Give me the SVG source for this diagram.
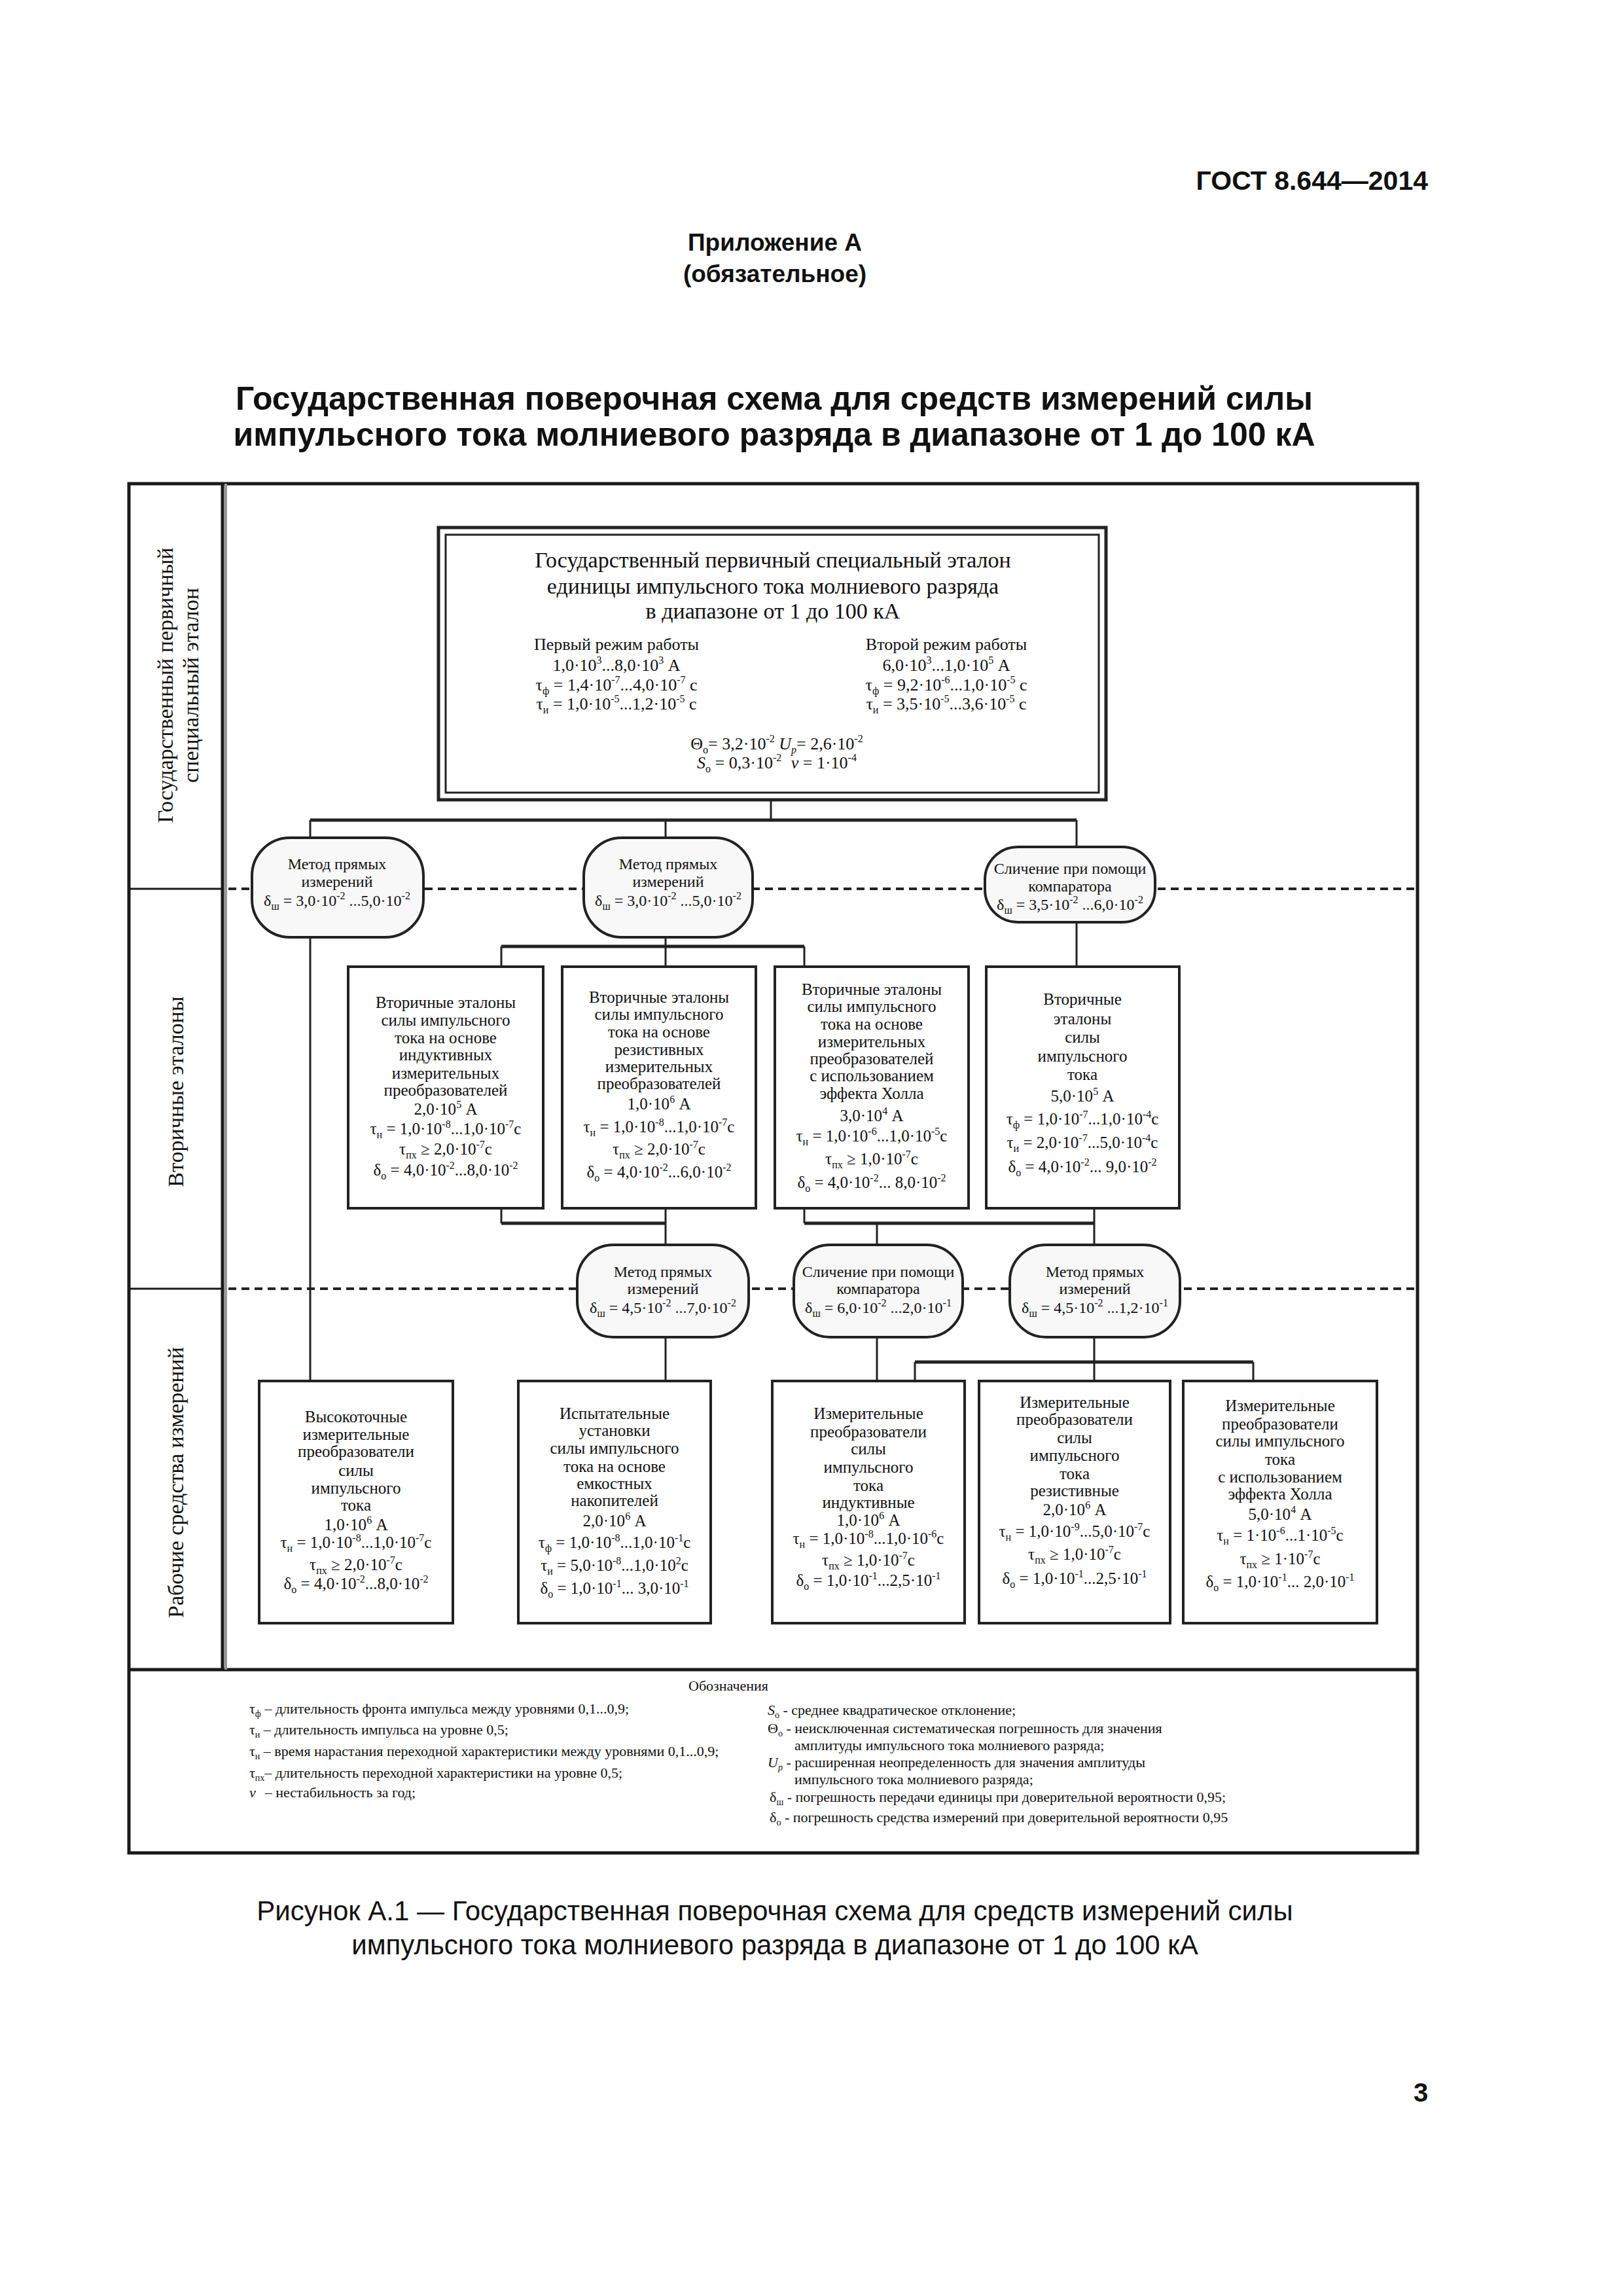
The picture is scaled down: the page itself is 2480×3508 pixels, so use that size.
<svg xmlns="http://www.w3.org/2000/svg" width="2480" height="3508" viewBox="0 0 2480 3508">
<style>
text{font-family:"Liberation Serif","Times New Roman",serif;fill:#111}
.c{text-anchor:middle}
.sans{font-family:"Liberation Sans",Arial,sans-serif}
.b{font-weight:bold}
.f25{font-size:25px}
.f24{font-size:24px}
.f26{font-size:26px}
.f34{font-size:34px}
.f22{font-size:22px}
.u{font-size:16px}
.s{font-size:14px}
.it{font-style:italic}
.box{fill:#fff;stroke:#222;stroke-width:4}
.oval{fill:#f8f8f8;stroke:#222;stroke-width:4}
.ln{stroke:#222;stroke-width:3;fill:none}
.bus{stroke:#222;stroke-width:5;fill:none}
.dash{stroke:#222;stroke-width:4;stroke-dasharray:12 8;fill:none}
.frm{fill:none;stroke:#1a1a1a;stroke-width:5}
</style>
<rect width="2480" height="3508" fill="#fff"/>

<g id="page-header">
<text class="sans b" x="2182" y="290" font-size="41" text-anchor="end">ГОСТ 8.644—2014</text>
<text class="sans b c" x="1184" y="383" font-size="37">Приложение А</text>
<text class="sans b c" x="1184" y="431" font-size="37">(обязательное)</text>
<text class="sans b c" x="1183" y="626" font-size="50">Государственная поверочная схема для средств измерений силы</text>
<text class="sans b c" x="1183" y="681" font-size="50">импульсного тока молниевого разряда в диапазоне от 1 до 100 кА</text>
</g>

<g id="frame">
<rect class="frm" x="197" y="739" width="1969" height="2092"/>
<line x1="197" y1="2551" x2="2166" y2="2551" stroke="#1a1a1a" stroke-width="5"/>
<line x1="340" y1="739" x2="340" y2="2551" stroke="#1a1a1a" stroke-width="5"/>
<line x1="345" y1="739" x2="345" y2="2551" stroke="#999" stroke-width="4"/>
<line x1="197" y1="1358" x2="340" y2="1358" stroke="#1a1a1a" stroke-width="3"/>
<line x1="197" y1="1969" x2="340" y2="1969" stroke="#1a1a1a" stroke-width="3"/>
<line class="dash" x1="349" y1="1358" x2="2164" y2="1358"/>
<line class="dash" x1="349" y1="1969" x2="2164" y2="1969"/>
</g>

<g id="level-labels" class="f34">
<text class="c" transform="translate(264,1047) rotate(-90)">Государственный первичный</text>
<text class="c" transform="translate(303,1047) rotate(-90)">специальный эталон</text>
<text class="c" transform="translate(280,1668) rotate(-90)">Вторичные эталоны</text>
<text class="c" transform="translate(280,2265) rotate(-90)">Рабочие средства измерений</text>
</g>

<g id="connectors">
<line class="ln" x1="1178" y1="1222" x2="1178" y2="1253"/>
<line class="bus" x1="474" y1="1253" x2="1645" y2="1253"/>
<line class="ln" x1="474" y1="1253" x2="474" y2="1280"/>
<line class="ln" x1="1017" y1="1253" x2="1017" y2="1280"/>
<line class="ln" x1="1645" y1="1253" x2="1645" y2="1294"/>
<line class="ln" x1="474" y1="1432" x2="474" y2="2110"/>
<line class="ln" x1="1017" y1="1432" x2="1017" y2="1446"/>
<line class="bus" x1="766" y1="1446" x2="1229" y2="1446"/>
<line class="ln" x1="766" y1="1446" x2="766" y2="1477"/>
<line class="ln" x1="1017" y1="1446" x2="1017" y2="1477"/>
<line class="ln" x1="1229" y1="1446" x2="1229" y2="1477"/>
<line class="ln" x1="1645" y1="1409" x2="1645" y2="1477"/>
<line class="ln" x1="766" y1="1846" x2="766" y2="1869"/>
<line class="ln" x1="1017" y1="1846" x2="1017" y2="1902"/>
<line class="bus" x1="766" y1="1869" x2="1017" y2="1869"/>
<line class="ln" x1="1229" y1="1846" x2="1229" y2="1869"/>
<line class="ln" x1="1672" y1="1846" x2="1672" y2="1902"/>
<line class="bus" x1="1229" y1="1869" x2="1672" y2="1869"/>
<line class="ln" x1="1340" y1="1869" x2="1340" y2="1902"/>
<line class="ln" x1="1017" y1="2043" x2="1017" y2="2110"/>
<line class="ln" x1="1340" y1="2043" x2="1340" y2="2110"/>
<line class="ln" x1="1672" y1="2043" x2="1672" y2="2110"/>
<line class="bus" x1="1398" y1="2081" x2="1915" y2="2081"/>
<line class="ln" x1="1398" y1="2081" x2="1398" y2="2110"/>
<line class="ln" x1="1915" y1="2081" x2="1915" y2="2110"/>
</g>

<g id="primary-standard">
<rect x="670" y="806" width="1020" height="416" fill="#fff" stroke="#222" stroke-width="5"/>
<rect x="681" y="817" width="998" height="394" fill="none" stroke="#222" stroke-width="3"/>
<text class="c f34" x="1181" y="867">Государственный первичный специальный эталон</text>
<text class="c f34" x="1181" y="907">единицы импульсного тока молниевого разряда</text>
<text class="c f34" x="1181" y="945">в диапазоне от 1 до 100 кА</text>
<text class="c f26" x="942" y="993">Первый режим работы</text>
<text class="c f26" x="942" y="1025">1,0·10<tspan class="u" dy="-11">3</tspan><tspan dy="11">...8,0·10</tspan><tspan class="u" dy="-11">3</tspan><tspan dy="11"> А</tspan></text>
<text class="c f26" x="942" y="1055">τ<tspan class="u" dy="6">ф</tspan><tspan dy="-6"> = 1,4·10</tspan><tspan class="u" dy="-11">-7</tspan><tspan dy="11">...4,0·10</tspan><tspan class="u" dy="-11">-7</tspan><tspan dy="11"> с</tspan></text>
<text class="c f26" x="942" y="1084">τ<tspan class="u" dy="6">и</tspan><tspan dy="-6"> = 1,0·10</tspan><tspan class="u" dy="-11">-5</tspan><tspan dy="11">...1,2·10</tspan><tspan class="u" dy="-11">-5</tspan><tspan dy="11"> с</tspan></text>
<text class="c f26" x="1446" y="993">Второй режим работы</text>
<text class="c f26" x="1446" y="1025">6,0·10<tspan class="u" dy="-11">3</tspan><tspan dy="11">...1,0·10</tspan><tspan class="u" dy="-11">5</tspan><tspan dy="11"> А</tspan></text>
<text class="c f26" x="1446" y="1055">τ<tspan class="u" dy="6">ф</tspan><tspan dy="-6"> = 9,2·10</tspan><tspan class="u" dy="-11">-6</tspan><tspan dy="11">...1,0·10</tspan><tspan class="u" dy="-11">-5</tspan><tspan dy="11"> с</tspan></text>
<text class="c f26" x="1446" y="1084">τ<tspan class="u" dy="6">и</tspan><tspan dy="-6"> = 3,5·10</tspan><tspan class="u" dy="-11">-5</tspan><tspan dy="11">...3,6·10</tspan><tspan class="u" dy="-11">-5</tspan><tspan dy="11"> с</tspan></text>
<text class="c f26" x="1187" y="1145">Θ<tspan class="u" dy="6">о</tspan><tspan dy="-6">= 3,2·10</tspan><tspan class="u" dy="-11">-2</tspan><tspan class="it" dy="11"> U</tspan><tspan class="u it" dy="6">р</tspan><tspan dy="-6">= 2,6·10</tspan><tspan class="u" dy="-11">-2</tspan></text>
<text class="c f26" x="1187" y="1174"><tspan class="it">S</tspan><tspan class="u" dy="6">о</tspan><tspan dy="-6"> = 0,3·10</tspan><tspan class="u" dy="-11">-2</tspan><tspan dy="11" dx="8"> </tspan><tspan class="it">ν</tspan> = 1·10<tspan class="u" dy="-11">-4</tspan></text>
</g>

<g id="method-1">
<rect class="oval" x="385" y="1280" width="262" height="152" rx="58"/>
<text class="c f24" x="515" y="1328">Метод прямых</text>
<text class="c f24" x="515" y="1355">измерений</text>
<text class="c f24" x="515" y="1384">δ<tspan class="u" dy="6">ш</tspan><tspan dy="-6"> = 3,0·10</tspan><tspan class="u" dy="-10">-2</tspan><tspan dy="10"> ...5,0·10</tspan><tspan class="u" dy="-10">-2</tspan></text>
</g>
<g id="method-2">
<rect class="oval" x="892" y="1280" width="258" height="152" rx="58"/>
<text class="c f24" x="1021" y="1328">Метод прямых</text>
<text class="c f24" x="1021" y="1355">измерений</text>
<text class="c f24" x="1021" y="1384">δ<tspan class="u" dy="6">ш</tspan><tspan dy="-6"> = 3,0·10</tspan><tspan class="u" dy="-10">-2</tspan><tspan dy="10"> ...5,0·10</tspan><tspan class="u" dy="-10">-2</tspan></text>
</g>
<g id="comparator-1">
<rect class="oval" x="1505" y="1294" width="260" height="115" rx="50"/>
<text class="c f24" x="1635" y="1335">Сличение при помощи</text>
<text class="c f24" x="1635" y="1362">компаратора</text>
<text class="c f24" x="1635" y="1390">δ<tspan class="u" dy="6">ш</tspan><tspan dy="-6"> = 3,5·10</tspan><tspan class="u" dy="-10">-2</tspan><tspan dy="10"> ...6,0·10</tspan><tspan class="u" dy="-10">-2</tspan></text>
</g>

<g id="secondary-1">
<rect class="box" x="532" y="1477" width="298" height="369"/>
<g class="c f25">
<text x="681" y="1540">Вторичные эталоны</text>
<text x="681" y="1567">силы импульсного</text>
<text x="681" y="1594">тока на основе</text>
<text x="681" y="1620">индуктивных</text>
<text x="681" y="1648">измерительных</text>
<text x="681" y="1674">преобразователей</text>
<text x="681" y="1703">2,0·10<tspan class="u" dy="-10">5</tspan><tspan dy="10"> А</tspan></text>
<text x="681" y="1733">τ<tspan class="u" dy="6">н</tspan><tspan dy="-6"> = 1,0·10</tspan><tspan class="u" dy="-10">-8</tspan><tspan dy="10">...1,0·10</tspan><tspan class="u" dy="-10">-7</tspan><tspan dy="10">с</tspan></text>
<text x="681" y="1764">τ<tspan class="u" dy="6">пх</tspan><tspan dy="-6"> ≥ 2,0·10</tspan><tspan class="u" dy="-10">-7</tspan><tspan dy="10">с</tspan></text>
<text x="681" y="1796">δ<tspan class="u" dy="6">о</tspan><tspan dy="-6"> = 4,0·10</tspan><tspan class="u" dy="-10">-2</tspan><tspan dy="10">...8,0·10</tspan><tspan class="u" dy="-10">-2</tspan></text>
</g>
</g>
<g id="secondary-2">
<rect class="box" x="859" y="1477" width="296" height="369"/>
<g class="c f25">
<text x="1007" y="1532">Вторичные эталоны</text>
<text x="1007" y="1558">силы импульсного</text>
<text x="1007" y="1585">тока на основе</text>
<text x="1007" y="1612">резистивных</text>
<text x="1007" y="1638">измерительных</text>
<text x="1007" y="1664">преобразователей</text>
<text x="1007" y="1695">1,0·10<tspan class="u" dy="-10">6</tspan><tspan dy="10"> А</tspan></text>
<text x="1007" y="1730">τ<tspan class="u" dy="6">н</tspan><tspan dy="-6"> = 1,0·10</tspan><tspan class="u" dy="-10">-8</tspan><tspan dy="10">...1,0·10</tspan><tspan class="u" dy="-10">-7</tspan><tspan dy="10">с</tspan></text>
<text x="1007" y="1764">τ<tspan class="u" dy="6">пх</tspan><tspan dy="-6"> ≥ 2,0·10</tspan><tspan class="u" dy="-10">-7</tspan><tspan dy="10">с</tspan></text>
<text x="1007" y="1799">δ<tspan class="u" dy="6">о</tspan><tspan dy="-6"> = 4,0·10</tspan><tspan class="u" dy="-10">-2</tspan><tspan dy="10">...6,0·10</tspan><tspan class="u" dy="-10">-2</tspan></text>
</g>
</g>
<g id="secondary-3">
<rect class="box" x="1184" y="1477" width="296" height="369"/>
<g class="c f25">
<text x="1332" y="1520">Вторичные эталоны</text>
<text x="1332" y="1546">силы импульсного</text>
<text x="1332" y="1573">тока на основе</text>
<text x="1332" y="1600">измерительных</text>
<text x="1332" y="1626">преобразователей</text>
<text x="1332" y="1652">с использованием</text>
<text x="1332" y="1679">эффекта Холла</text>
<text x="1332" y="1713">3,0·10<tspan class="u" dy="-10">4</tspan><tspan dy="10"> А</tspan></text>
<text x="1332" y="1744">τ<tspan class="u" dy="6">н</tspan><tspan dy="-6"> = 1,0·10</tspan><tspan class="u" dy="-10">-6</tspan><tspan dy="10">...1,0·10</tspan><tspan class="u" dy="-10">-5</tspan><tspan dy="10">с</tspan></text>
<text x="1332" y="1779">τ<tspan class="u" dy="6">пх</tspan><tspan dy="-6"> ≥ 1,0·10</tspan><tspan class="u" dy="-10">-7</tspan><tspan dy="10">с</tspan></text>
<text x="1332" y="1815">δ<tspan class="u" dy="6">о</tspan><tspan dy="-6"> = 4,0·10</tspan><tspan class="u" dy="-10">-2</tspan><tspan dy="10">... 8,0·10</tspan><tspan class="u" dy="-10">-2</tspan></text>
</g>
</g>
<g id="secondary-4">
<rect class="box" x="1507" y="1477" width="295" height="369"/>
<g class="c f25">
<text x="1654" y="1535">Вторичные</text>
<text x="1654" y="1565">эталоны</text>
<text x="1654" y="1593">силы</text>
<text x="1654" y="1622">импульсного</text>
<text x="1654" y="1650">тока</text>
<text x="1654" y="1683">5,0·10<tspan class="u" dy="-10">5</tspan><tspan dy="10"> А</tspan></text>
<text x="1654" y="1718">τ<tspan class="u" dy="6">ф</tspan><tspan dy="-6"> = 1,0·10</tspan><tspan class="u" dy="-10">-7</tspan><tspan dy="10">...1,0·10</tspan><tspan class="u" dy="-10">-4</tspan><tspan dy="10">с</tspan></text>
<text x="1654" y="1754">τ<tspan class="u" dy="6">и</tspan><tspan dy="-6"> = 2,0·10</tspan><tspan class="u" dy="-10">-7</tspan><tspan dy="10">...5,0·10</tspan><tspan class="u" dy="-10">-4</tspan><tspan dy="10">с</tspan></text>
<text x="1654" y="1791">δ<tspan class="u" dy="6">о</tspan><tspan dy="-6"> = 4,0·10</tspan><tspan class="u" dy="-10">-2</tspan><tspan dy="10">... 9,0·10</tspan><tspan class="u" dy="-10">-2</tspan></text>
</g>
</g>

<g id="method-3">
<rect class="oval" x="882" y="1902" width="262" height="141" rx="55"/>
<text class="c f24" x="1013" y="1951">Метод прямых</text>
<text class="c f24" x="1013" y="1977">измерений</text>
<text class="c f24" x="1013" y="2006">δ<tspan class="u" dy="6">ш</tspan><tspan dy="-6"> = 4,5·10</tspan><tspan class="u" dy="-10">-2</tspan><tspan dy="10"> ...7,0·10</tspan><tspan class="u" dy="-10">-2</tspan></text>
</g>
<g id="comparator-2">
<rect class="oval" x="1213" y="1902" width="258" height="141" rx="55"/>
<text class="c f24" x="1342" y="1951">Сличение при помощи</text>
<text class="c f24" x="1342" y="1977">компаратора</text>
<text class="c f24" x="1342" y="2006">δ<tspan class="u" dy="6">ш</tspan><tspan dy="-6"> = 6,0·10</tspan><tspan class="u" dy="-10">-2</tspan><tspan dy="10"> ...2,0·10</tspan><tspan class="u" dy="-10">-1</tspan></text>
</g>
<g id="method-4">
<rect class="oval" x="1543" y="1902" width="260" height="141" rx="55"/>
<text class="c f24" x="1673" y="1951">Метод прямых</text>
<text class="c f24" x="1673" y="1977">измерений</text>
<text class="c f24" x="1673" y="2006">δ<tspan class="u" dy="6">ш</tspan><tspan dy="-6"> = 4,5·10</tspan><tspan class="u" dy="-10">-2</tspan><tspan dy="10"> ...1,2·10</tspan><tspan class="u" dy="-10">-1</tspan></text>
</g>

<g id="working-1">
<rect class="box" x="396" y="2110" width="296" height="370"/>
<g class="c f25">
<text x="544" y="2173">Высокоточные</text>
<text x="544" y="2200">измерительные</text>
<text x="544" y="2226">преобразователи</text>
<text x="544" y="2255">силы</text>
<text x="544" y="2282">импульсного</text>
<text x="544" y="2308">тока</text>
<text x="544" y="2338">1,0·10<tspan class="u" dy="-10">6</tspan><tspan dy="10"> А</tspan></text>
<text x="544" y="2365">τ<tspan class="u" dy="6">н</tspan><tspan dy="-6"> = 1,0·10</tspan><tspan class="u" dy="-10">-8</tspan><tspan dy="10">...1,0·10</tspan><tspan class="u" dy="-10">-7</tspan><tspan dy="10">с</tspan></text>
<text x="544" y="2399">τ<tspan class="u" dy="6">пх</tspan><tspan dy="-6"> ≥ 2,0·10</tspan><tspan class="u" dy="-10">-7</tspan><tspan dy="10">с</tspan></text>
<text x="544" y="2428">δ<tspan class="u" dy="6">о</tspan><tspan dy="-6"> = 4,0·10</tspan><tspan class="u" dy="-10">-2</tspan><tspan dy="10">...8,0·10</tspan><tspan class="u" dy="-10">-2</tspan></text>
</g>
</g>
<g id="working-2">
<rect class="box" x="792" y="2110" width="294" height="370"/>
<g class="c f25">
<text x="939" y="2168">Испытательные</text>
<text x="939" y="2194">установки</text>
<text x="939" y="2221">силы импульсного</text>
<text x="939" y="2249">тока на основе</text>
<text x="939" y="2275">емкостных</text>
<text x="939" y="2301">накопителей</text>
<text x="939" y="2332">2,0·10<tspan class="u" dy="-10">6</tspan><tspan dy="10"> А</tspan></text>
<text x="939" y="2365">τ<tspan class="u" dy="6">ф</tspan><tspan dy="-6"> = 1,0·10</tspan><tspan class="u" dy="-10">-8</tspan><tspan dy="10">...1,0·10</tspan><tspan class="u" dy="-10">-1</tspan><tspan dy="10">с</tspan></text>
<text x="939" y="2400">τ<tspan class="u" dy="6">и</tspan><tspan dy="-6"> = 5,0·10</tspan><tspan class="u" dy="-10">-8</tspan><tspan dy="10">...1,0·10</tspan><tspan class="u" dy="-10">2</tspan><tspan dy="10">с</tspan></text>
<text x="939" y="2435">δ<tspan class="u" dy="6">о</tspan><tspan dy="-6"> = 1,0·10</tspan><tspan class="u" dy="-10">-1</tspan><tspan dy="10">... 3,0·10</tspan><tspan class="u" dy="-10">-1</tspan></text>
</g>
</g>
<g id="working-3">
<rect class="box" x="1180" y="2110" width="294" height="370"/>
<g class="c f25">
<text x="1327" y="2168">Измерительные</text>
<text x="1327" y="2196">преобразователи</text>
<text x="1327" y="2222">силы</text>
<text x="1327" y="2250">импульсного</text>
<text x="1327" y="2278">тока</text>
<text x="1327" y="2304">индуктивные</text>
<text x="1327" y="2331">1,0·10<tspan class="u" dy="-10">6</tspan><tspan dy="10"> А</tspan></text>
<text x="1327" y="2359">τ<tspan class="u" dy="6">н</tspan><tspan dy="-6"> = 1,0·10</tspan><tspan class="u" dy="-10">-8</tspan><tspan dy="10">...1,0·10</tspan><tspan class="u" dy="-10">-6</tspan><tspan dy="10">с</tspan></text>
<text x="1327" y="2392">τ<tspan class="u" dy="6">пх</tspan><tspan dy="-6"> ≥ 1,0·10</tspan><tspan class="u" dy="-10">-7</tspan><tspan dy="10">с</tspan></text>
<text x="1327" y="2423">δ<tspan class="u" dy="6">о</tspan><tspan dy="-6"> = 1,0·10</tspan><tspan class="u" dy="-10">-1</tspan><tspan dy="10">...2,5·10</tspan><tspan class="u" dy="-10">-1</tspan></text>
</g>
</g>
<g id="working-4">
<rect class="box" x="1496" y="2110" width="292" height="370"/>
<g class="c f25">
<text x="1642" y="2151">Измерительные</text>
<text x="1642" y="2177">преобразователи</text>
<text x="1642" y="2205">силы</text>
<text x="1642" y="2232">импульсного</text>
<text x="1642" y="2260">тока</text>
<text x="1642" y="2286">резистивные</text>
<text x="1642" y="2315">2,0·10<tspan class="u" dy="-10">6</tspan><tspan dy="10"> А</tspan></text>
<text x="1642" y="2348">τ<tspan class="u" dy="6">н</tspan><tspan dy="-6"> = 1,0·10</tspan><tspan class="u" dy="-10">-9</tspan><tspan dy="10">...5,0·10</tspan><tspan class="u" dy="-10">-7</tspan><tspan dy="10">с</tspan></text>
<text x="1642" y="2383">τ<tspan class="u" dy="6">пх</tspan><tspan dy="-6"> ≥ 1,0·10</tspan><tspan class="u" dy="-10">-7</tspan><tspan dy="10">с</tspan></text>
<text x="1642" y="2420">δ<tspan class="u" dy="6">о</tspan><tspan dy="-6"> = 1,0·10</tspan><tspan class="u" dy="-10">-1</tspan><tspan dy="10">...2,5·10</tspan><tspan class="u" dy="-10">-1</tspan></text>
</g>
</g>
<g id="working-5">
<rect class="box" x="1808" y="2110" width="296" height="370"/>
<g class="c f25">
<text x="1956" y="2156">Измерительные</text>
<text x="1956" y="2184">преобразователи</text>
<text x="1956" y="2210">силы импульсного</text>
<text x="1956" y="2238">тока</text>
<text x="1956" y="2265">с использованием</text>
<text x="1956" y="2291">эффекта Холла</text>
<text x="1956" y="2322">5,0·10<tspan class="u" dy="-10">4</tspan><tspan dy="10"> А</tspan></text>
<text x="1956" y="2354">τ<tspan class="u" dy="6">н</tspan><tspan dy="-6"> = 1·10</tspan><tspan class="u" dy="-10">-6</tspan><tspan dy="10">...1·10</tspan><tspan class="u" dy="-10">-5</tspan><tspan dy="10">с</tspan></text>
<text x="1956" y="2390">τ<tspan class="u" dy="6">пх</tspan><tspan dy="-6"> ≥ 1·10</tspan><tspan class="u" dy="-10">-7</tspan><tspan dy="10">с</tspan></text>
<text x="1956" y="2425">δ<tspan class="u" dy="6">о</tspan><tspan dy="-6"> = 1,0·10</tspan><tspan class="u" dy="-10">-1</tspan><tspan dy="10">... 2,0·10</tspan><tspan class="u" dy="-10">-1</tspan></text>
</g>
</g>

<g id="legend" class="f22">
<text class="c" x="1113" y="2583">Обозначения</text>
<text x="381" y="2618">τ<tspan class="s" dy="5">ф</tspan><tspan dy="-5"> – длительность фронта импульса между уровнями 0,1...0,9;</tspan></text>
<text x="381" y="2650">τ<tspan class="s" dy="5">и</tspan><tspan dy="-5"> – длительность импульса на уровне 0,5;</tspan></text>
<text x="381" y="2683">τ<tspan class="s" dy="5">н</tspan><tspan dy="-5"> – время нарастания переходной характеристики между уровнями 0,1...0,9;</tspan></text>
<text x="381" y="2716">τ<tspan class="s" dy="5">пх</tspan><tspan dy="-5">– длительность переходной характеристики на уровне 0,5;</tspan></text>
<text x="381" y="2746"><tspan class="it">ν</tspan><tspan dx="14">– нестабильность за год;</tspan></text>
<text x="1173" y="2620"><tspan class="it">S</tspan><tspan class="s" dy="5">о</tspan><tspan dy="-5"> -  среднее квадратическое отклонение;</tspan></text>
<text x="1173" y="2648">Θ<tspan class="s" dy="5">о</tspan><tspan dy="-5"> - неисключенная систематическая погрешность для значения</tspan></text>
<text x="1214" y="2674">амплитуды импульсного тока молниевого разряда;</text>
<text x="1173" y="2700"><tspan class="it">U</tspan><tspan class="s it" dy="5">р</tspan><tspan dy="-5"> - расширенная неопределенность для значения  амплитуды</tspan></text>
<text x="1214" y="2726">импульсного тока молниевого разряда;</text>
<text x="1176" y="2753">δ<tspan class="s" dy="5">ш</tspan><tspan dy="-5"> - погрешность передачи единицы при доверительной вероятности 0,95;</tspan></text>
<text x="1176" y="2784">δ<tspan class="s" dy="5">о</tspan><tspan dy="-5"> - погрешность средства измерений при доверительной вероятности 0,95</tspan></text>
</g>

<g id="caption">
<text class="sans c" x="1184" y="2934" font-size="42">Рисунок А.1 — Государственная поверочная схема для средств измерений силы</text>
<text class="sans c" x="1184" y="2986" font-size="42">импульсного тока молниевого разряда в диапазоне от 1 до 100 кА</text>
<text class="sans b c" x="2171" y="3211" font-size="40">3</text>
</g>
</svg>
